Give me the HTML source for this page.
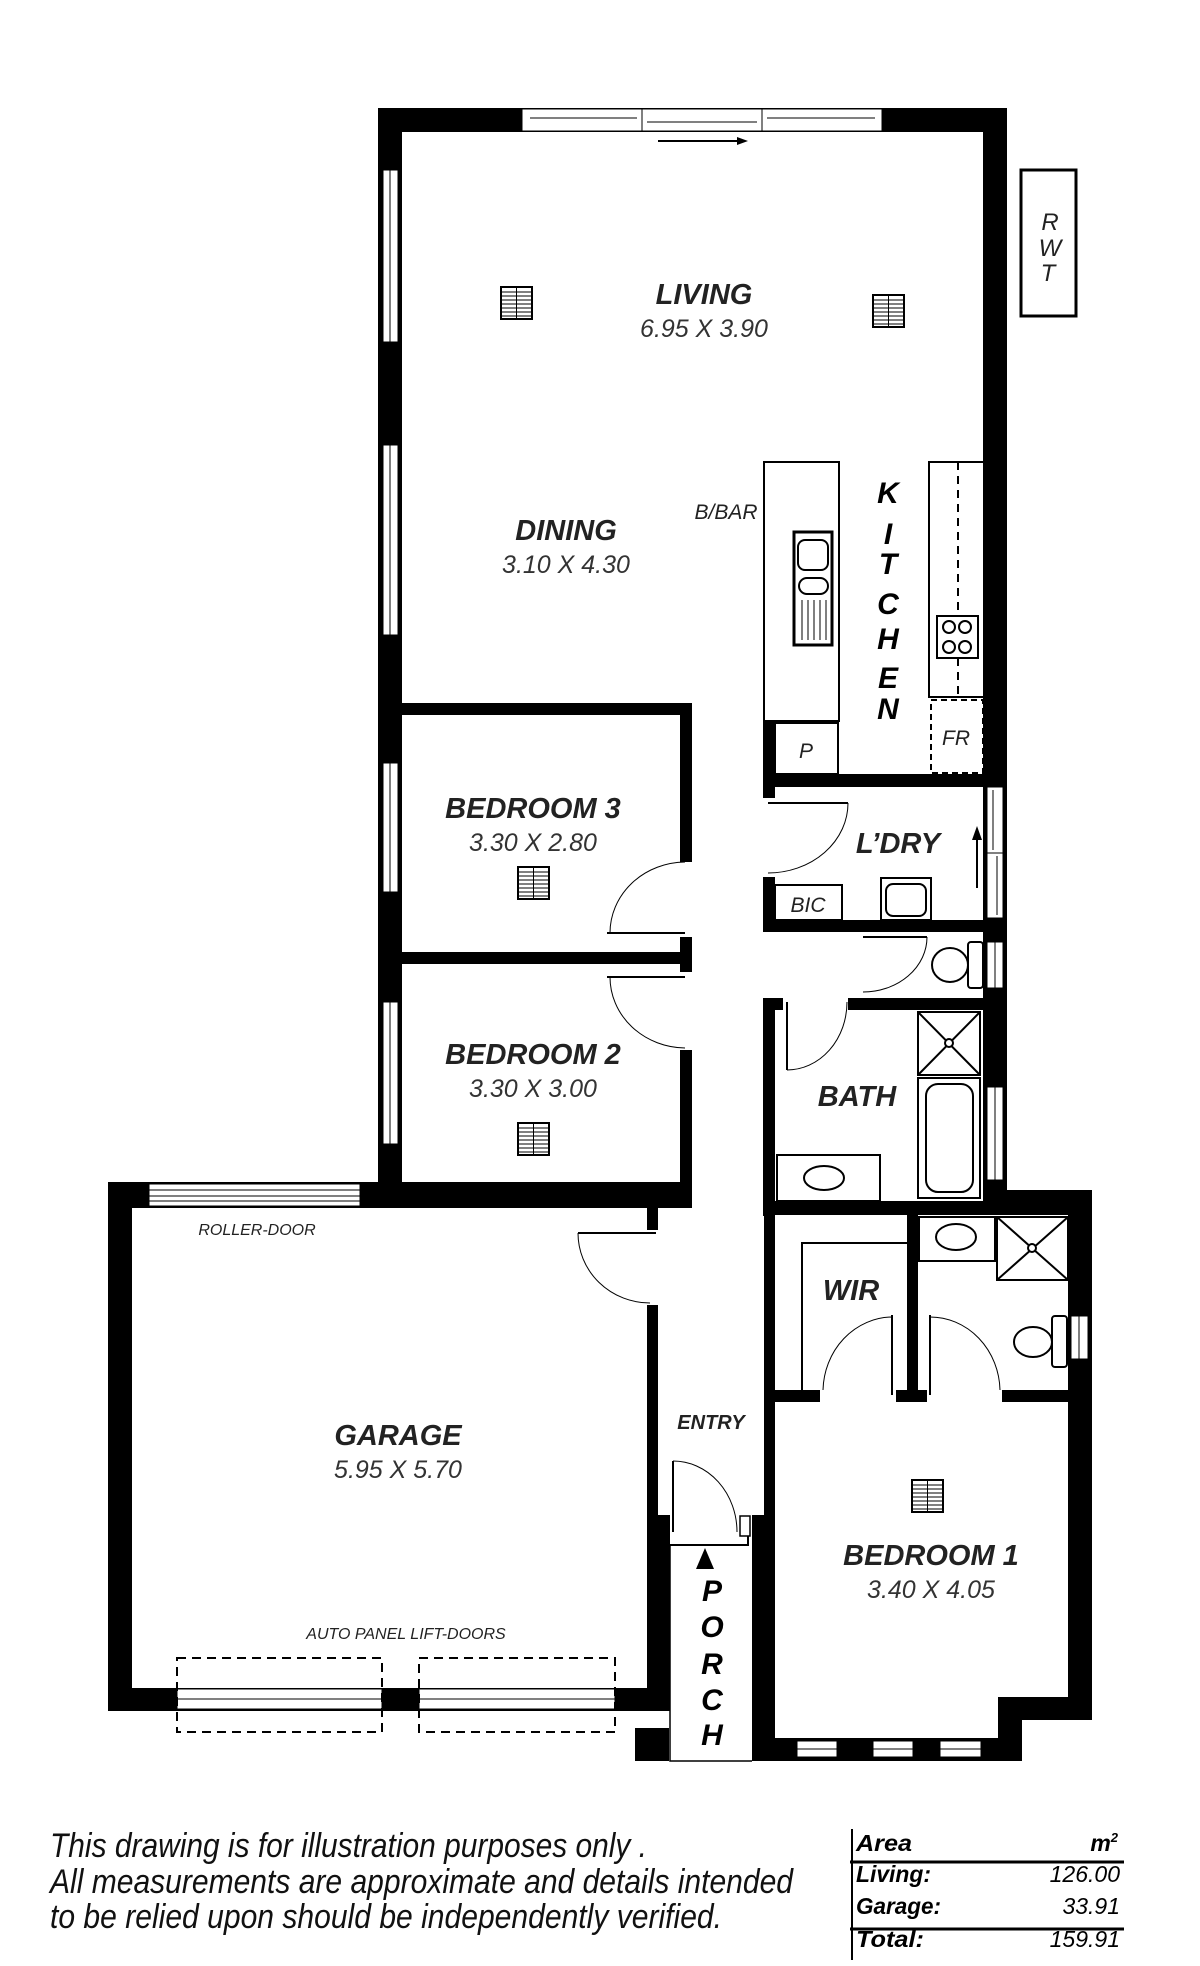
<!DOCTYPE html>
<html><head><meta charset="utf-8"><style>
html,body{margin:0;padding:0;background:#fff;}
svg{display:block;}
.rn{font-family:"Liberation Sans",sans-serif;font-weight:bold;font-style:italic;font-size:29px;fill:#222;text-anchor:middle;}
.dm{font-family:"Liberation Sans",sans-serif;font-style:italic;font-size:25px;fill:#333;text-anchor:middle;}
.sm{font-family:"Liberation Sans",sans-serif;font-style:italic;font-size:16px;fill:#222;text-anchor:middle;}
.md{font-family:"Liberation Sans",sans-serif;font-style:italic;font-size:21px;fill:#222;text-anchor:middle;}
.vt{font-family:"Liberation Sans",sans-serif;font-weight:bold;font-style:italic;font-size:30px;fill:#000;text-anchor:middle;}
.ft{font-family:"Liberation Sans",sans-serif;font-style:italic;font-size:34px;fill:#111;}
.tb{font-family:"Liberation Sans",sans-serif;font-style:italic;font-size:23px;fill:#000;}
</style></head><body>
<svg width="1200" height="1966" viewBox="0 0 1200 1966" xmlns="http://www.w3.org/2000/svg">
<defs>
<g id="vent"><rect x="0" y="0" width="31" height="32" fill="#fff" stroke="#000" stroke-width="2"/>
<path d="M15.5 0V32M0 5H31M0 9H31M0 13H31M0 17H31M0 21H31M0 25H31M0 29H31" stroke="#000" stroke-width="1"/></g>
</defs>
<g fill="#000">
<rect x="378" y="108" width="629" height="24"/>
<rect x="378" y="108" width="24" height="1100"/>
<rect x="983" y="108" width="24" height="1107"/>
<rect x="378" y="703" width="314" height="12"/>
<rect x="680" y="703" width="12" height="159"/>
<rect x="402" y="952" width="290" height="12"/>
<rect x="680" y="937" width="12" height="35"/>
<rect x="680" y="1050" width="12" height="158"/>
<rect x="108" y="1182" width="584" height="26"/>
<rect x="108" y="1182" width="24" height="529"/>
<rect x="647" y="1190" width="11" height="40"/>
<rect x="647" y="1305" width="11" height="227"/>
<rect x="647" y="1515" width="23" height="196"/>
<rect x="108" y="1688" width="562" height="23"/>
<rect x="635" y="1728" width="34" height="33"/>
<rect x="763" y="721" width="12" height="66"/>
<rect x="763" y="774" width="244" height="13"/>
<rect x="763" y="774" width="12" height="24"/>
<rect x="763" y="877" width="12" height="55"/>
<rect x="763" y="920" width="244" height="12"/>
<rect x="763" y="998" width="20" height="12"/>
<rect x="848" y="998" width="135" height="12"/>
<rect x="763" y="998" width="12" height="218"/>
<rect x="763" y="1201" width="329" height="14"/>
<rect x="983" y="1190" width="109" height="25"/>
<rect x="1068" y="1190" width="24" height="530"/>
<rect x="998" y="1697" width="94" height="23"/>
<rect x="998" y="1697" width="24" height="64"/>
<rect x="764" y="1201" width="11" height="560"/>
<rect x="752" y="1515" width="23" height="246"/>
<rect x="752" y="1738" width="270" height="23"/>
<rect x="907" y="1215" width="11" height="187"/>
<rect x="775" y="1390" width="45" height="12"/>
<rect x="896" y="1390" width="31" height="12"/>
<rect x="1002" y="1390" width="66" height="12"/>
</g>
<g fill="#fff" stroke="#000" stroke-width="1">
<rect x="522" y="109" width="360" height="22"/>
<path d="M642 109V131M762 109V131M530 118H637M647 122H757M767 118H875"/>
<rect x="383" y="170" width="15" height="172"/><path d="M390 170V342"/>
<rect x="383" y="445" width="15" height="190"/><path d="M390 445V635"/>
<rect x="383" y="763" width="15" height="129"/><path d="M390 763V892"/>
<rect x="383" y="1002" width="15" height="142"/><path d="M390 1002V1144"/>
<rect x="149" y="1184" width="211" height="22"/><path d="M149 1190H360M149 1196H360M149 1201H360"/>
<rect x="987" y="787" width="16" height="131"/><path d="M987 853H1003M993 790V850M997 856V915"/>
<rect x="987" y="942" width="16" height="46"/><path d="M995 942V988"/>
<rect x="987" y="1087" width="16" height="93"/><path d="M995 1087V1180"/>
<rect x="1071" y="1316" width="17" height="43"/><path d="M1079 1316V1359"/>
<rect x="177" y="1689" width="205" height="20"/><path d="M177 1699H382"/>
<rect x="419" y="1689" width="196" height="20"/><path d="M419 1699H615"/>
<rect x="797" y="1741" width="40" height="16"/><path d="M797 1749H837"/>
<rect x="873" y="1741" width="40" height="16"/><path d="M873 1749H913"/>
<rect x="940" y="1741" width="41" height="16"/><path d="M940 1749H981"/>
</g>
<g fill="none" stroke="#000" stroke-width="2" stroke-dasharray="9,6">
<rect x="177" y="1658" width="205" height="74"/>
<rect x="419" y="1658" width="196" height="74"/>
</g>
<path d="M658 141H742" stroke="#000" stroke-width="2"/><path d="M748 141L737 137V145Z"/>
<rect x="1021" y="170" width="55" height="146" fill="none" stroke="#000" stroke-width="3"/>
<text class="md" x="1050" y="230" style="font-size:24px">R</text><text class="md" x="1050" y="256" style="font-size:24px">W</text><text class="md" x="1048" y="281" style="font-size:24px">T</text>
<use href="#vent" x="501" y="287"/><use href="#vent" x="873" y="295"/>
<use href="#vent" x="518" y="867"/><use href="#vent" x="518" y="1123"/><use href="#vent" x="912" y="1480"/>
<g fill="none" stroke="#000" stroke-width="2">
<rect x="764" y="462" width="75" height="259"/>
<rect x="775" y="723" width="63" height="51"/>
<rect x="794" y="532" width="38" height="113" stroke-width="3"/>
<rect x="798" y="540" width="30" height="30" rx="7"/>
<rect x="799" y="578" width="29" height="16" rx="8"/>
<path d="M802 600V640M808 600V640M814 600V640M820 600V640M826 600V640" stroke-width="1"/>
<rect x="929" y="462" width="55" height="235"/>
<path d="M958 462V697" stroke-dasharray="8,6"/>
<rect x="937" y="616" width="41" height="42" fill="#fff"/>
<circle cx="949" cy="627" r="6"/><circle cx="965" cy="627" r="6"/><circle cx="949" cy="647" r="6"/><circle cx="965" cy="647" r="6"/>
<rect x="931" y="700" width="52" height="73" stroke-dasharray="6,4"/>
</g>
<g fill="none" stroke="#000" stroke-width="2">
<rect x="775" y="885" width="67" height="35"/>
<rect x="881" y="878" width="50" height="42"/>
<rect x="886" y="884" width="40" height="32" rx="7"/>
<path d="M768 803H848"/>
<path d="M848 803A80 70 0 0 1 768 873" stroke-width="1"/>
<path d="M977 888V835" stroke-width="2"/>
<path d="M863 937H927"/><path d="M927 937A64 55 0 0 1 863 992" stroke-width="1"/>
<ellipse cx="950" cy="965" rx="18" ry="17"/><rect x="968" y="942" width="15" height="46" rx="3"/>
<path d="M787 1002V1070"/><path d="M787 1070A60 68 0 0 0 847 1002" stroke-width="1"/>
<rect x="918" y="1012" width="62" height="63"/><path d="M918 1012L980 1075M980 1012L918 1075"/>
<circle cx="949" cy="1043" r="4" fill="#fff"/>
<rect x="918" y="1078" width="62" height="120"/><rect x="926" y="1084" width="47" height="108" rx="12"/>
<rect x="777" y="1155" width="103" height="46"/><ellipse cx="824" cy="1178" rx="20" ry="12"/>
<rect x="919" y="1217" width="76" height="44"/><ellipse cx="956" cy="1237" rx="20" ry="13"/>
<rect x="997" y="1217" width="71" height="63"/><path d="M997 1217L1068 1280M1068 1217L997 1280"/>
<circle cx="1032" cy="1248" r="4" fill="#fff"/>
<ellipse cx="1033" cy="1342" rx="19" ry="15"/><rect x="1052" y="1316" width="15" height="51" rx="3"/>
<path d="M802 1390V1243H907"/>
<path d="M892 1315V1395" stroke-width="2"/><path d="M892 1317A70 75 0 0 0 823 1390" stroke-width="1"/>
<path d="M930 1315V1395"/><path d="M930 1317A70 75 0 0 1 1000 1390" stroke-width="1"/>
<path d="M607 933H685"/><path d="M685 862A76 71 0 0 0 610 933" stroke-width="1"/>
<path d="M607 977H685"/><path d="M610 977A76 71 0 0 0 685 1048" stroke-width="1"/>
<path d="M578 1233H656"/><path d="M578 1233A72 70 0 0 0 650 1303" stroke-width="1"/>
<path d="M673 1461V1532"/><path d="M673 1461A64 71 0 0 1 737 1532" stroke-width="1"/>
<path d="M670 1545H748V1536"/><rect x="740" y="1516" width="10" height="20" stroke-width="1.5"/>
<path d="M670 1545V1761H752" stroke-width="1.5"/>
</g>
<path d="M977 826L972 840H982Z"/>
<path d="M705 1548L696 1569H714Z"/>
<text class="rn" x="704" y="304">LIVING</text><text class="dm" x="704" y="337">6.95 X 3.90</text>
<text class="rn" x="566" y="540">DINING</text><text class="dm" x="566" y="573">3.10 X 4.30</text>
<text class="md" x="726" y="519">B/BAR</text>
<text class="vt" x="888" y="503">K</text><text class="vt" x="888" y="544">I</text><text class="vt" x="888" y="574">T</text><text class="vt" x="888" y="614">C</text><text class="vt" x="888" y="649">H</text><text class="vt" x="888" y="688">E</text><text class="vt" x="888" y="719">N</text>
<text class="md" x="806" y="758">P</text><text class="md" x="956" y="745">FR</text>
<text class="rn" x="533" y="818">BEDROOM 3</text><text class="dm" x="533" y="851">3.30 X 2.80</text>
<text class="rn" x="898" y="853">L’DRY</text>
<text class="md" x="808" y="912">BIC</text>
<text class="rn" x="533" y="1064">BEDROOM 2</text><text class="dm" x="533" y="1097">3.30 X 3.00</text>
<text class="rn" x="857" y="1106">BATH</text>
<text class="sm" x="257" y="1235">ROLLER-DOOR</text>
<text class="rn" x="851" y="1300">WIR</text>
<text class="rn" x="398" y="1445">GARAGE</text><text class="dm" x="398" y="1478">5.95 X 5.70</text>
<text class="md" x="711" y="1429" style="font-weight:bold;font-size:20px">ENTRY</text>
<text class="rn" x="931" y="1565">BEDROOM 1</text><text class="dm" x="931" y="1598">3.40 X 4.05</text>
<text class="sm" x="406" y="1639">AUTO PANEL  LIFT-DOORS</text>
<text class="vt" x="712" y="1601">P</text><text class="vt" x="712" y="1637">O</text><text class="vt" x="712" y="1674">R</text><text class="vt" x="712" y="1710">C</text><text class="vt" x="712" y="1745">H</text>
<text class="ft" x="50" y="1857" textLength="597" lengthAdjust="spacingAndGlyphs">This drawing is for illustration purposes only .</text>
<text class="ft" x="50" y="1893" textLength="743" lengthAdjust="spacingAndGlyphs">All measurements are approximate and details intended</text>
<text class="ft" x="50" y="1928" textLength="672" lengthAdjust="spacingAndGlyphs">to be relied upon should be independently verified.</text>
<path d="M852 1829V1960" stroke="#000" stroke-width="2"/>
<path d="M850 1862H1124M850 1929H1124" stroke="#000" stroke-width="3"/>
<text class="tb" x="856" y="1851" font-weight="bold" textLength="56" lengthAdjust="spacingAndGlyphs">Area</text>
<text class="tb" x="1118" y="1851" font-weight="bold" text-anchor="end">m<tspan font-size="13" dy="-9">2</tspan></text>
<text class="tb" x="856" y="1882" font-weight="bold" textLength="75" lengthAdjust="spacingAndGlyphs">Living:</text>
<text class="tb" x="1120" y="1882" text-anchor="end">126.00</text>
<text class="tb" x="856" y="1914" font-weight="bold" textLength="85" lengthAdjust="spacingAndGlyphs">Garage:</text>
<text class="tb" x="1120" y="1914" text-anchor="end">33.91</text>
<text class="tb" x="856" y="1947" font-weight="bold" textLength="68" lengthAdjust="spacingAndGlyphs">Total:</text>
<text class="tb" x="1120" y="1947" text-anchor="end">159.91</text>
</svg>
</body></html>
